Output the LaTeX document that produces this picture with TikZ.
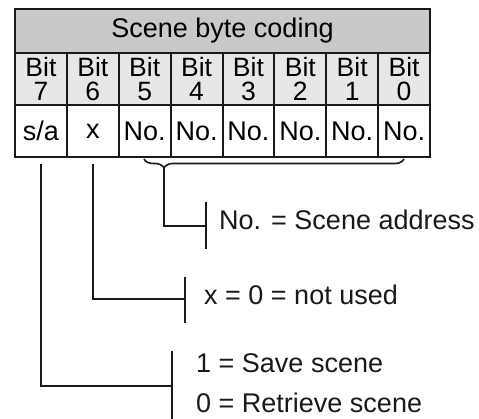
\documentclass[tikz,border=0pt]{standalone}
\usepackage{fontspec}
\setmainfont{Liberation Sans}
\usetikzlibrary{positioning,calc,decorations.pathreplacing}
\definecolor{headgray}{RGB}{200,201,203}
\definecolor{bitgray}{RGB}{230,231,233}
\definecolor{ink}{RGB}{25,25,25}

\begin{document}
\begin{tikzpicture}[x=1pt,y=-1pt,font=\fontsize{27}{24}\selectfont,
	cell/.style={draw=ink,line width=2pt,minimum width=51.875pt,inner sep=0pt,align=center,anchor=north west},
	link/.style={draw=ink,line width=1.6pt},
	lbl/.style={anchor=base west,inner sep=0pt,text=ink}]
	\useasboundingbox (0,0) rectangle (479,419);
	% table
	\node[cell,fill=headgray,minimum width=415pt,minimum height=44pt] (head) at (14,8) {Scene byte coding};
	\foreach \b [count=\i from 0] in {7,...,0}
		\node[cell,fill=bitgray,minimum height=52pt,font=\fontsize{26.5}{25}\selectfont] (bit\b) at ({14+51.875*\i},52) {Bit\\[-1pt]\b};
	\foreach \v [count=\i from 0] in {s/a,x,No.,No.,No.,No.,No.,No.}
		\node[cell,fill=white,minimum height=52pt] (val\i) at ({14+51.875*\i},104) {\v};
	% brace over the scene number bits
	\draw[link,decorate,decoration={brace,mirror,amplitude=9pt,aspect=0.077}] (144,159) -- (404,159);
	\coordinate (braceTip) at (164,168);
	% bars
	\coordinate (barNo) at (206,226);
	\coordinate (barNoTop) at (206,202);
	\coordinate (barNoBot) at (206,249);
	\coordinate (barX) at (185,299);
	\coordinate (barXTop) at (185,277);
	\coordinate (barXBot) at (185,323);
	\coordinate (barSa) at (172,386);
	\coordinate (barSaTop) at (172,351);
	\coordinate (barSaBot) at (172,419);
	\draw[link] (barNoTop) -- (barNoBot);
	\draw[link] (barXTop) -- (barXBot);
	\draw[link] (barSaTop) -- (barSaBot);
	% connectors
	\draw[link] (braceTip) |- (barNo);
	\draw[link] ([yshift=-6pt]val1.south) |- (barX);
	\draw[link] ([yshift=-6pt]val0.south) |- (barSa);
	% labels
	\node[lbl] (lblNo) at (219,230) {No. = Scene address};
	\node[lbl] (lblX) at (204,305) {x = 0 = not used};
	\node[lbl] (lblSave) at (196,373) {1 = Save scene};
	\node[lbl] (lblGet) at (196,412) {0 = Retrieve scene};
\end{tikzpicture}
\end{document}
